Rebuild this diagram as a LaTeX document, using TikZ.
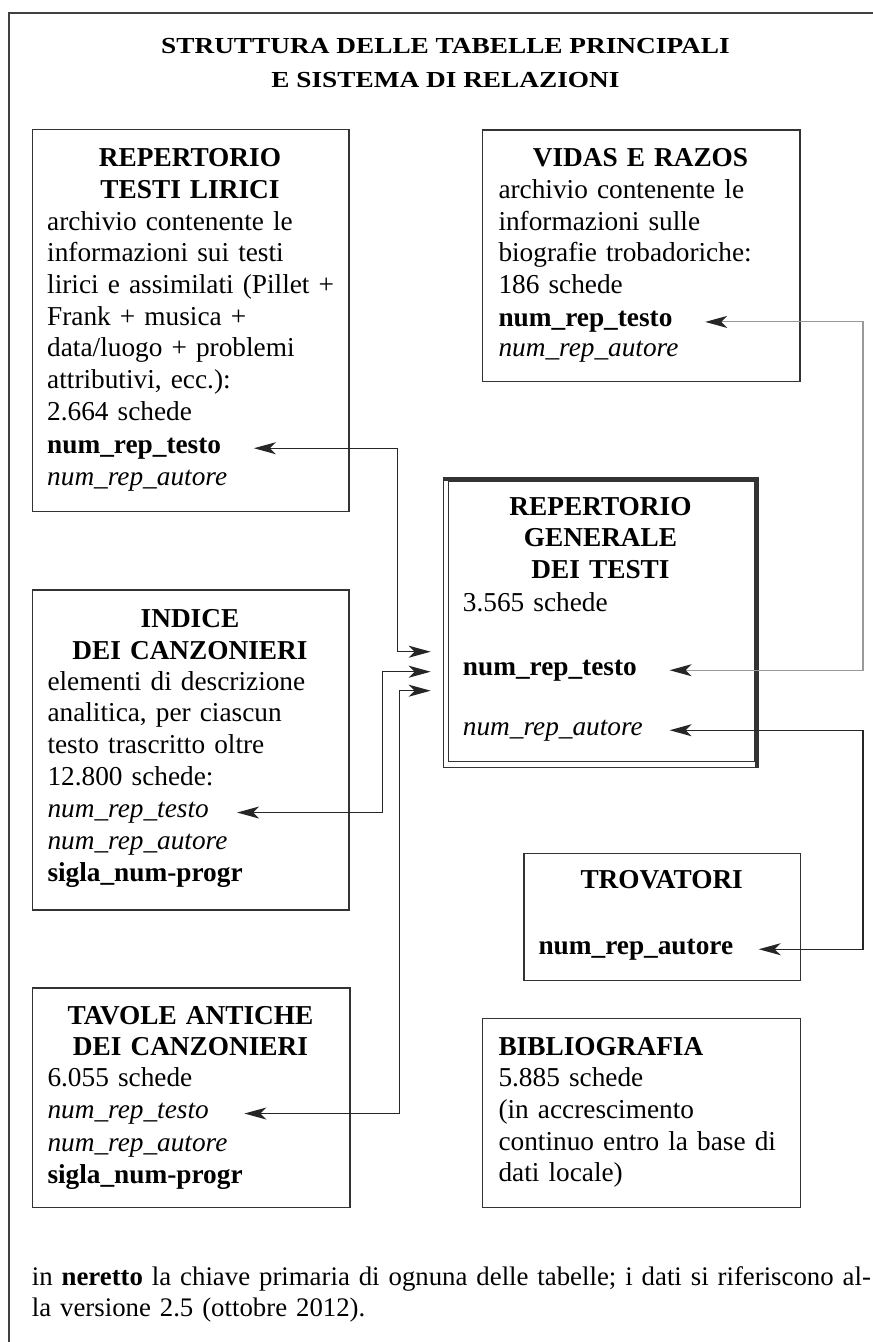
\documentclass[tikz,border=0pt]{standalone}
\usepackage{fontspec}
\setmainfont{Liberation Serif}
\usepackage{graphicx}
\usetikzlibrary{arrows.meta}
\newcommand\tabfont{\fontsize{27.3}{31.7}\selectfont}

\begin{document}
\begin{tikzpicture}[x=1pt, y=-1pt,
  every node/.style={inner sep=0pt, font=\tabfont},
  tab/.style={draw=black!80, line width=1.3pt, anchor=north west, minimum width=316.6pt},
  head/.style={anchor=base, text width=300pt, align=center, font=\tabfont\bfseries},
  body/.style={anchor=base west, text width=320pt, align=left},
  keyb/.style={anchor=base west, text width=206.5pt, align=left, font=\tabfont\bfseries},
  keyi/.style={anchor=base west, text width=206.5pt, align=left, font=\tabfont\itshape},
  >={Stealth[length=22pt, width=12pt, inset=6pt]},
  link/.style={draw, line width=1.4pt, black!85, <->},
  glink/.style={draw, line width=1.1pt, black!40, {Stealth[length=22pt, width=12pt, inset=6pt, color=black!85]}-{Stealth[length=22pt, width=12pt, inset=6pt, color=black!85]}}]
\useasboundingbox (0,0) rectangle (873,1342);
\draw[line width=1.6pt, black!75] (8.7,1342) |- (873,13);

\node[anchor=base, font=\tabfont\bfseries] (title) at (445.5,53.3) {\scalebox{1}[0.84]{\parbox[t]{700pt}{\centering\fontsize{27.3}{41}\selectfont STRUTTURA DELLE TABELLE PRINCIPALI\\E SISTEMA DI RELAZIONI}}};

\node[tab, minimum height=382pt] (lirici) at (31.7,129) {};
\node[head] (lirici-h) at (190,166.7) {REPERTORIO\\TESTI LIRICI};
\node[body] (lirici-b) at (47,230) {archivio contenente le\\informazioni sui testi\\lirici e assimilati (Pillet +\\Frank + musica +\\data/luogo + problemi\\attributivi, ecc.):\\2.664 schede};
\node[keyb] (lirici-t) at (47,453) {num\_rep\_testo};
\node[body, font=\tabfont\itshape] (lirici-a) at (47,485) {num\_rep\_autore};

\node[tab, minimum width=317.6pt, minimum height=251.7pt] (vidas) at (481.7,129.3) {};
\node[head] (vidas-h) at (640.5,166.7) {VIDAS E RAZOS};
\node[body] (vidas-b) at (498.3,198.3) {archivio contenente le\\informazioni sulle\\biografie trobadoriche:\\186 schede};
\node[keyb] (vidas-t) at (498.3,326.7) {num\_rep\_testo};
\node[body, font=\tabfont\itshape] (vidas-a) at (498.3,356.7) {num\_rep\_autore};

\node[tab, line width=1.2pt, minimum width=315.3pt, minimum height=290pt] (gen) at (442.7,477) {};
\draw[line width=1.2pt, black!80] ([shift={(5.6pt,-4pt)}]gen.north west) rectangle ([shift={(-4.7pt,7pt)}]gen.south east);
\fill[black!80] ([yshift=-4pt]gen.north west) rectangle (gen.north east);
\fill[black!80] ([xshift=-4.7pt]gen.north east) rectangle (gen.south east);
\node[head] (gen-h) at (600.5,515) {REPERTORIO\\GENERALE\\DEI TESTI};
\node[body] (gen-b) at (462.7,611.7) {3.565 schede};
\node[keyb] (gen-t) at (462.7,675) {num\_rep\_testo};
\node[keyi] (gen-a) at (462.7,735) {num\_rep\_autore};

\node[tab, minimum height=320pt] (indice) at (31.7,589.3) {};
\node[head] (indice-h) at (190,627.3) {INDICE\\DEI CANZONIERI};
\node[body] (indice-b) at (47.3,690) {elementi di descrizione\\analitica, per ciascun\\testo trascritto oltre\\12.800 schede:};
\node[keyi, text width=189.4pt] (indice-t) at (47.3,817.3) {num\_rep\_testo};
\node[body] (indice-a) at (47.3,849.3) {\textit{num\_rep\_autore}\\\textbf{sigla\_num-progr}};

\node[tab, minimum width=276.7pt, minimum height=127.3pt] (trov) at (523.3,852.7) {};
\node[head] (trov-h) at (661.7,888.3) {TROVATORI};
\node[keyb, text width=220pt] (trov-a) at (538.3,954) {num\_rep\_autore};

\node[tab, minimum width=317.6pt, minimum height=219.7pt] (tavole) at (31.7,987.3) {};
\node[head] (tavole-h) at (190.5,1024) {TAVOLE ANTICHE\\DEI CANZONIERI};
\node[body] (tavole-b) at (47.3,1086.7) {6.055 schede};
\node[keyi, text width=196.7pt] (tavole-t) at (47.3,1118.3) {num\_rep\_testo};
\node[body] (tavole-a) at (47.3,1151.7) {\textit{num\_rep\_autore}\\\textbf{sigla\_num-progr}};

\node[tab, minimum width=317.7pt, minimum height=189.3pt] (biblio) at (482,1017.7) {};
\node[body] (biblio-b) at (498.3,1055) {\textbf{BIBLIOGRAFIA}\\5.885 schede\\(in accrescimento\\continuo entro la base di\\dati locale)};

\node[body, text width=845pt, font=\fontsize{26.8}{31.7}\selectfont] (note) at (31.7,1285) {in \textbf{neretto} la chiave primaria di ognuna delle tabelle; i dati si riferiscono al-\\la versione 2.5 (ottobre 2012).};

\coordinate (e1) at (430.7,651.7);
\coordinate (e2) at (430.7,671.7);
\coordinate (e3) at (430.7,690.7);
\coordinate (r1) at (397.7,0);
\coordinate (r2) at (382.7,0);
\coordinate (r3) at (399.5,0);
\coordinate (rr) at (863,0);

\path[link] (lirici-t.east) -| (r1 |- e1) -- (e1);
\path[link] (indice-t.east) -| (r2 |- e2) -- (e2);
\path[link] (tavole-t.east) -| (r3 |- e3) -- (e3);
\path[glink] (vidas-t.east) -| (rr |- gen-t.east) -- (gen-t.east);
\path[link] (gen-a.east) -| (rr |- trov-a.east) -- (trov-a.east);
\end{tikzpicture}
\end{document}
